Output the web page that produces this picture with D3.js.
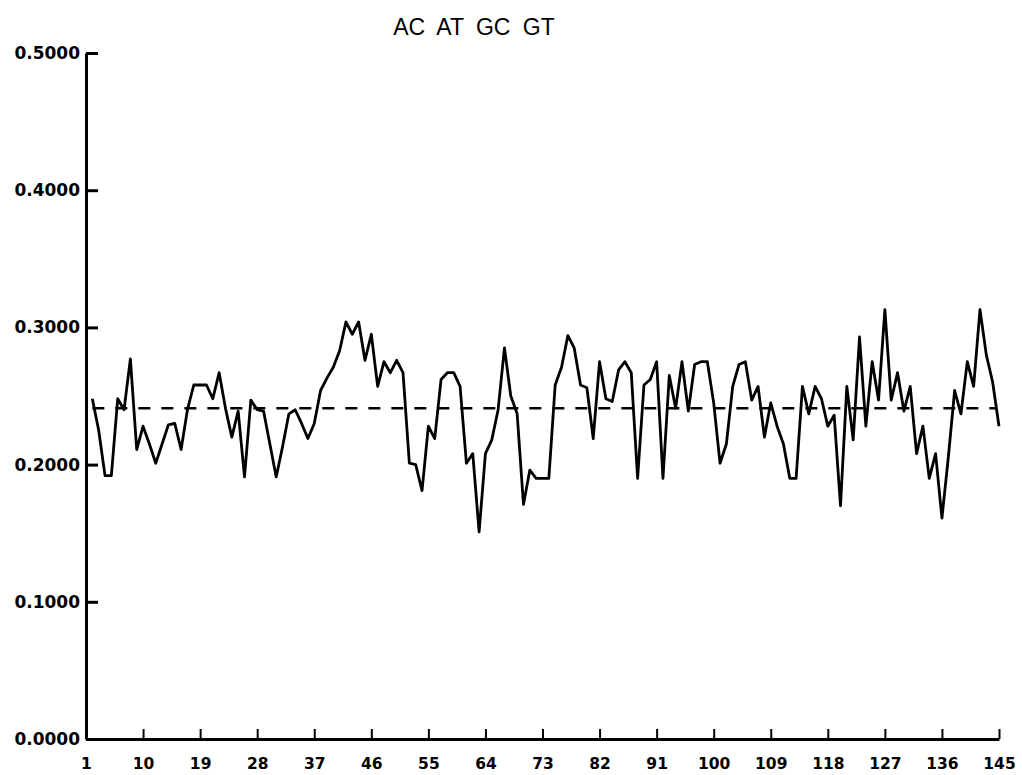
<!DOCTYPE html>
<html>
<head>
<meta charset="utf-8">
<script src="https://cdn.jsdelivr.net/npm/d3@7"></script>
<style>
  body { margin: 0; background: #fff; }
  svg { display: block; }
</style>
</head>
<body>
<svg id="chart" width="1022" height="775"></svg>
<script>
// window positions 2..145, one value per position
const firstPos = 2;
const values = [
  0.248, 0.225, 0.192, 0.192, 0.248, 0.240, 0.277, 0.211, 0.228, 0.215,
  0.201, 0.215, 0.229, 0.230, 0.211, 0.240, 0.258, 0.258, 0.258, 0.248,
  0.267, 0.241, 0.220, 0.239, 0.191, 0.247, 0.240, 0.239, 0.215, 0.191,
  0.213, 0.237, 0.240, 0.230, 0.219, 0.230, 0.254, 0.263, 0.271, 0.283,
  0.304, 0.295, 0.304, 0.276, 0.295, 0.257, 0.275, 0.267, 0.276, 0.267,
  0.201, 0.200, 0.181, 0.228, 0.219, 0.262, 0.267, 0.267, 0.257, 0.201,
  0.208, 0.151, 0.208, 0.218, 0.240, 0.285, 0.250, 0.237, 0.171, 0.196,
  0.190, 0.190, 0.190, 0.258, 0.271, 0.294, 0.285, 0.258, 0.256, 0.219,
  0.275, 0.248, 0.246, 0.269, 0.275, 0.267, 0.190, 0.258, 0.262, 0.275,
  0.190, 0.265, 0.241, 0.275, 0.239, 0.273, 0.275, 0.275, 0.245, 0.201,
  0.215, 0.257, 0.273, 0.275, 0.247, 0.257, 0.220, 0.245, 0.228, 0.215,
  0.190, 0.190, 0.257, 0.237, 0.257, 0.248, 0.228, 0.236, 0.170, 0.257,
  0.218, 0.293, 0.228, 0.275, 0.247, 0.313, 0.247, 0.267, 0.239, 0.257,
  0.208, 0.228, 0.190, 0.208, 0.161, 0.205, 0.254, 0.237, 0.275, 0.257,
  0.313, 0.280, 0.260, 0.228
];
const meanValue = 0.241;
const meanSpan = [2, 144.5];
const xTicks = [1, 10, 19, 28, 37, 46, 55, 64, 73, 82, 91, 100, 109, 118, 127, 136, 145];
const yTicks = [0, 0.1, 0.2, 0.3, 0.4, 0.5];
const title = "AC AT GC GT";

const svg = d3.select("#chart"),
    margin = { top: 53, right: 23, bottom: 36, left: 86 },
    width = +svg.attr("width") - margin.left - margin.right,
    height = +svg.attr("height") - margin.top - margin.bottom;

const x = d3.scaleLinear().domain([1, 145]).range([0, width]);
const y = d3.scaleLinear().domain([0, 0.5]).range([height, 0]);

const data = values.map((v, i) => ({ pos: firstPos + i, value: v }));

const g = svg.append("g").attr("transform", `translate(${margin.left},${margin.top})`);

// x axis, ticks pointing up into the plot
const xAxis = g.append("g")
    .attr("transform", `translate(0,${height})`)
    .call(d3.axisBottom(x).tickValues(xTicks).tickFormat(d3.format("d"))
        .tickSizeInner(-10).tickSizeOuter(0).tickPadding(19));
xAxis.select(".domain").attr("stroke-width", 3);
xAxis.selectAll(".tick line").attr("stroke-width", 2);
xAxis.selectAll("text")
    .attr("font-family", "DejaVu Sans")
    .attr("font-weight", "bold")
    .attr("font-size", 15.5);

// y axis, ticks pointing right
const yAxis = g.append("g")
    .call(d3.axisLeft(y).tickValues(yTicks).tickFormat(d3.format(".4f"))
        .tickSizeInner(-12).tickSizeOuter(0).tickPadding(6));
yAxis.select(".domain").attr("stroke-width", 3);
yAxis.selectAll(".tick line").attr("stroke-width", 3);
yAxis.selectAll("text")
    .attr("font-family", "DejaVu Sans")
    .attr("font-weight", "bold")
    .attr("font-size", 17);

// mean line
g.append("line")
    .attr("x1", x(meanSpan[0]))
    .attr("x2", x(meanSpan[1]))
    .attr("y1", y(meanValue))
    .attr("y2", y(meanValue))
    .attr("stroke", "#000")
    .attr("stroke-width", 2.5)
    .attr("stroke-dasharray", "12,11");

const line = d3.line()
    .x(d => x(d.pos))
    .y(d => y(d.value));

g.append("path")
    .datum(data)
    .attr("d", line)
    .attr("fill", "none")
    .attr("stroke", "#000")
    .attr("stroke-width", 2.8)
    .attr("stroke-linejoin", "round");

svg.append("text")
    .attr("x", 474)
    .attr("y", 35)
    .attr("text-anchor", "middle")
    .attr("font-family", "Liberation Sans, Arial")
    .attr("font-size", 23)
    .attr("word-spacing", 6)
    .text(title);
</script>
</body>
</html>
